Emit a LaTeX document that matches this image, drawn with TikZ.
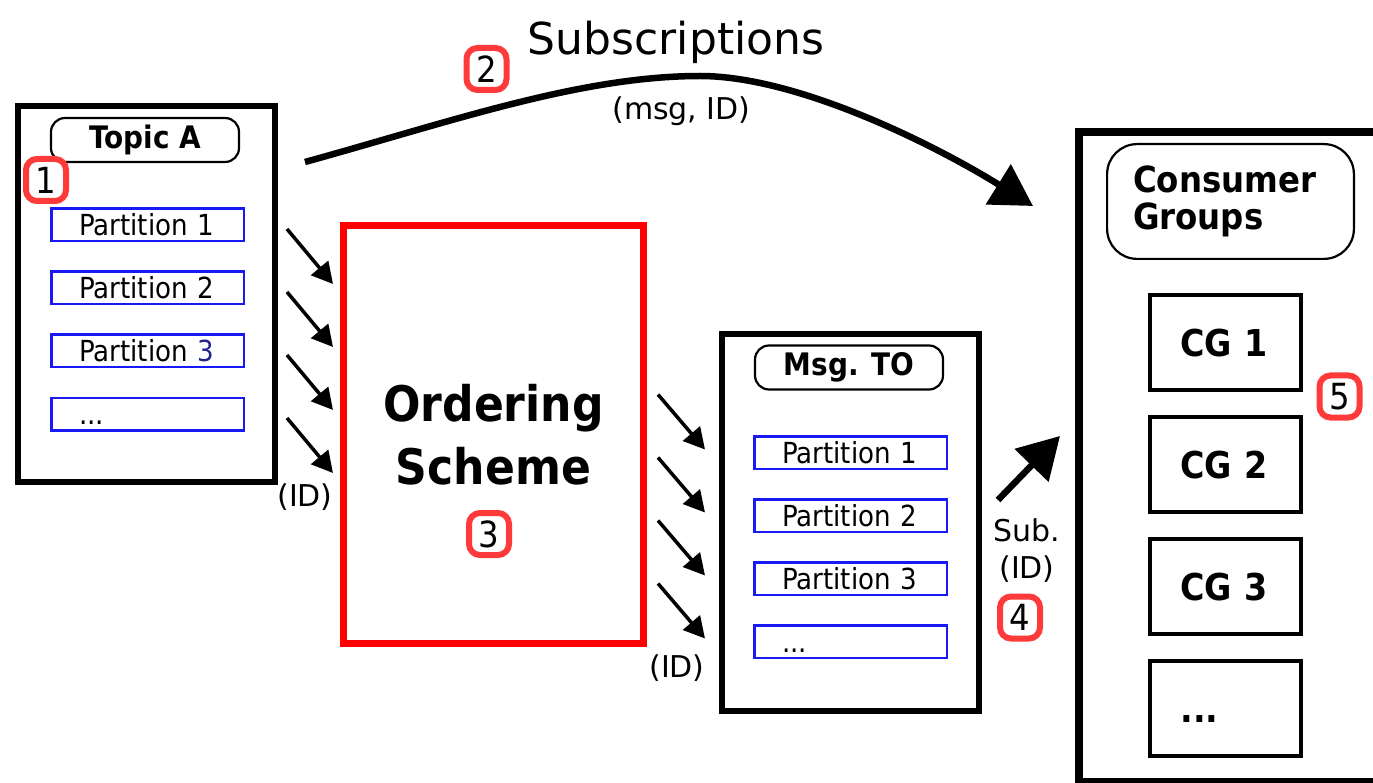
\documentclass[tikz,border=0pt]{standalone}
\usepackage{fontspec}
\setmainfont{DejaVu Sans}[FakeStretch=0.9]
\newfontfamily\wideface{DejaVu Sans}
\usepackage{xcolor}
\usepackage{tikz}
\usetikzlibrary{arrows.meta,positioning,calc}

\definecolor{badgered}{RGB}{255,58,58}
\definecolor{partblue}{RGB}{25,25,245}
\definecolor{darkthree}{RGB}{35,35,140}
\newcommand{\moredots}{...}

\begin{document}
\begin{tikzpicture}[
  x=1pt, y=-1pt,
  container/.style={draw, line width=6pt, minimum width=257pt, minimum height=376pt, inner sep=0pt},
  tag/.style={draw, rounded corners=14pt, line width=2.2pt, minimum width=188pt, minimum height=44pt, inner sep=0pt, font=\fontsize{31}{34}\selectfont\bfseries},
  part/.style={draw=partblue, line width=2.5pt, text width=137pt, inner xsep=27.75pt, inner ysep=0pt, minimum height=32.5pt, text height=21pt, text depth=0pt, align=left, font=\fontsize{29}{30}\selectfont},
  cg/.style={draw, line width=4pt, text width=90pt, inner xsep=30.5pt, inner ysep=0pt, minimum height=95pt, text height=27pt, text depth=0pt, align=left, font=\fontsize{37}{40}\selectfont\bfseries},
  badge/.style={draw=badgered, fill=white, line width=6pt, rounded corners=11pt, minimum width=40pt, minimum height=42pt, inner sep=0pt, font=\fontsize{36}{36}\selectfont},
  lbl/.style={font=\wideface\fontsize{30}{37}\selectfont, align=center, inner sep=0pt},
  thinarr/.style={-{Triangle[length=21pt,width=22pt]}, line width=3.5pt},
  bigarr/.style={-{Triangle[length=41pt,width=46pt]}, line width=6.5pt}
]
  \useasboundingbox (0,0) rectangle (1373,783);
  \clip (0,0) rectangle (1373,783);

  % topic A
  \node[container] (topic) at (146.5,294) {};
  \node[tag] (topictag) at (145,140) {Topic A};
  \foreach \i/\t in {1/Partition 1, 2/Partition 2, 3/Partition \textcolor{darkthree}{3}, 4/\moredots}
    \node[part] (tp\i) at (147.5,162+63*\i) {\t};
  \node[badge] (one) at (46,180) {1};

  % ordering scheme
  \node[draw=red, line width=7pt, minimum width=300pt, minimum height=418pt, align=center,
        font=\fontsize{49}{63}\selectfont\bfseries] (order) at (493.5,434.5) {Ordering\\Scheme};
  \node[badge] (three) at (489,534) {3};

  % msg. TO
  \node[container] (msg) at (850.5,522.5) {};
  \node[tag] (msgtag) at (849,367.5) {Msg. TO};
  \foreach \i/\t in {1/Partition 1, 2/Partition 2, 3/Partition 3, 4/\moredots}
    \node[part] (mp\i) at (850.5,389.5+63*\i) {\t};

  % consumer groups
  \node[draw, line width=8pt, minimum width=341pt, minimum height=650pt] (cons) at (1249.5,457) {};
  \node[draw, rounded corners=30pt, line width=2.2pt, text width=195pt, inner xsep=25.9pt, minimum height=114.8pt,
        align=left, font=\fontsize{36}{37}\selectfont\bfseries] (constag) at (1230.5,201.5) {Consumer\\Groups};
  \foreach \i/\t in {1/CG 1, 2/CG 2, 3/CG 3, 4/\moredots}
    \node[cg] (cg\i) at (1225.5,220.5+122*\i) {\t};
  \node[badge] (five) at (1339.5,396.5) {5};

  % partition arrows
  \foreach \i in {1,...,4}{
    \draw[thinarr] ($(topic.east |- tp\i)+(9,4)$) -- ++(46,55);
    \draw[thinarr] ($(msg.west |- mp\i)+(-61,-58)$) -- ++(47,55);
  }
  \node[lbl] (idleft) at (305,497) {(ID)};
  \node[lbl] (idright) at (677,668) {(ID)};

  % subscriptions
  \coordinate (subsfrom) at (305,162);
  \coordinate (substo) at (1033,206);
  \draw[bigarr] (subsfrom) .. controls (450,122) and (580,76) .. (700,76)
                .. controls (800,76) and (940,148) .. (substo);
  \node[font=\wideface\fontsize{44}{44}\selectfont, anchor=base] (substitle) at (676,55) {Subscriptions};
  \node[lbl, anchor=base] (msgid) at (681.5,120) {(msg, ID)};
  \node[badge] (two) at (486.5,69) {2};

  % sub. arrow
  \coordinate (subfrom) at (998,500);
  \coordinate (subto) at (1060,436);
  \draw[bigarr] (subfrom) -- (subto);
  \node[lbl] (sublbl) at (1027,551) {Sub.\\(ID)};
  \node[badge] (four) at (1020,617.5) {4};
\end{tikzpicture}
\end{document}
